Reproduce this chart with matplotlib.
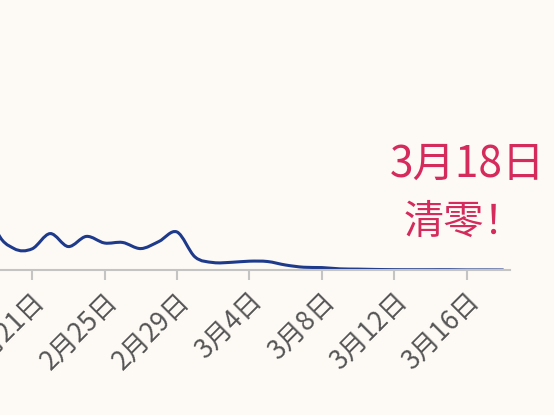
import matplotlib
matplotlib.use('Agg')
import matplotlib.pyplot as plt
from matplotlib.path import Path
from matplotlib.patches import PathPatch
import numpy as np

plt.rcParams['font.family'] = ['Noto Sans CJK SC', 'DejaVu Sans']

# 武汉每日新增确诊（2月18日 - 3月18日）
dates = ['2月18日', '2月19日', '2月20日', '2月21日', '2月22日', '2月23日', '2月24日',
         '2月25日', '2月26日', '2月27日', '2月28日', '2月29日', '3月1日', '3月2日',
         '3月3日', '3月4日', '3月5日', '3月6日', '3月7日', '3月8日', '3月9日',
         '3月10日', '3月11日', '3月12日', '3月13日', '3月14日', '3月15日', '3月16日',
         '3月17日', '3月18日']
new_cases = [1660, 615, 319, 314, 541, 348, 499, 401, 409, 318, 423, 565, 193, 111,
             114, 131, 126, 74, 41, 36, 17, 13, 8, 5, 4, 4, 4, 1, 1, 0]

bg = '#fdf9f5'
line_color = '#1e3a8a'
accent = '#d42a5c'
axis_gray = '#c4c4c4'

x = np.arange(len(dates), dtype=float)
y = np.array(new_cases, dtype=float)

fig = plt.figure(figsize=(5.54, 4.15), dpi=100, facecolor=bg)
ax = fig.add_axes([0, 0.3494, 0.9206, 0.6506])
ax.set_facecolor(bg)

# 平滑曲线（Catmull-Rom -> 三次贝塞尔）
k = 1 / 6
verts = [(x[0], y[0])]
codes = [Path.MOVETO]
n = len(x)
for i in range(n - 1):
    p0 = i - 1 if i > 0 else i
    p3 = i + 2 if i + 2 < n else i + 1
    c1 = (x[i] + (x[i + 1] - x[p0]) * k, y[i] + (y[i + 1] - y[p0]) * k)
    c2 = (x[i + 1] - (x[p3] - x[i]) * k, y[i + 1] - (y[p3] - y[i]) * k)
    verts += [c1, c2, (x[i + 1], y[i + 1])]
    codes += [Path.CURVE4] * 3
ax.add_patch(PathPatch(Path(verts, codes), facecolor='none', edgecolor=line_color,
                       lw=2.2, capstyle='round', joinstyle='round'))

ax.set_xlim(1.23, 29.39)
ax.set_ylim(0, 4010)

for s in ['top', 'right', 'left']:
    ax.spines[s].set_visible(False)
ax.spines['bottom'].set_color(axis_gray)
ax.spines['bottom'].set_linewidth(1.5)
ax.set_yticks([])

tick_idx = [i for i in range(len(dates)) if (i - 3) % 4 == 0]
ax.set_xticks(tick_idx)
ax.set_xticklabels([dates[i] for i in tick_idx], rotation=45, ha='right',
                   rotation_mode='anchor', fontsize=19, color='#555555')
ax.tick_params(axis='x', length=7, width=1.5, color=axis_gray, pad=6)

fig.text(0.843, 0.602, '3月18日', ha='center', va='center', fontsize=30.5, color=accent)
fig.text(0.837, 0.463, '清零！', ha='center', va='center', fontsize=29, color=accent)

fig.savefig('out.png', dpi=100, facecolor=bg)
